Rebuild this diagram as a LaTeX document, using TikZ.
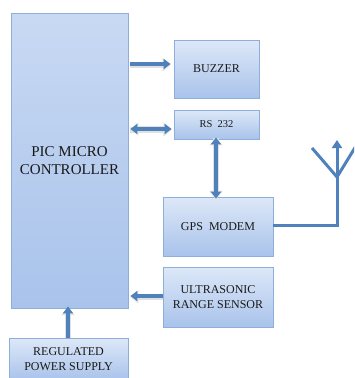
\documentclass[tikz,border=0pt]{standalone}
\usepackage{fontspec}
\setmainfont{Liberation Serif}
\usetikzlibrary{arrows.meta,shadows}
\definecolor{arrblue}{HTML}{4F81BD}
\definecolor{boxline}{HTML}{8EAEDC}
\definecolor{boxtop}{HTML}{DDE8F8}
\definecolor{boxbot}{HTML}{A9C3EB}
\begin{document}
\begin{tikzpicture}[x=1pt,y=-1pt,
  blk/.style={draw=boxline, line width=0.8pt, top color=boxtop, bottom color=boxbot,
    align=center, inner sep=0pt, text=black!90,
    drop shadow={shadow xshift=1pt, shadow yshift=-1pt, opacity=0.25}},
  arr/.style={draw=arrblue, line width=3.4pt, -{Triangle[length=7pt,width=10pt]},
    preaction={draw=black!12, line width=6pt, -{Triangle[length=8pt,width=13pt]}, transform canvas={yshift=-0.8pt}}},
  darr/.style={arr, {Triangle[length=7pt,width=10pt]}-{Triangle[length=7pt,width=10pt]},
    preaction={draw=black!12, line width=6pt, {Triangle[length=8pt,width=13pt]}-{Triangle[length=8pt,width=13pt]}}},
  ant/.style={draw=arrblue, line width=3pt}
]
\useasboundingbox (0,0) rectangle (354,378);
\begin{scope}
\clip (0,0) rectangle (354,378);
\node[blk, minimum width=117pt, minimum height=295pt, top color=boxtop!60!boxbot, font=\fontsize{15}{18}\selectfont] (pic) at (69.5,160.5) {PIC MICRO\\CONTROLLER};
\node[blk, minimum width=85pt, minimum height=58pt, font=\fontsize{12}{14}\selectfont] (buz) at (216.5,69) {BUZZER};
\node[blk, minimum width=85pt, minimum height=29pt, font=\fontsize{10.5}{12}\selectfont] (rs) at (216.5,124.5) {RS\ \ 232};
\node[blk, minimum width=110pt, minimum height=59pt, font=\fontsize{12}{14}\selectfont] (gps) at (218,226.5) {GPS\ \ MODEM};
\node[blk, minimum width=110pt, minimum height=60pt, font=\fontsize{12}{14.5}\selectfont] (us) at (218,297) {ULTRASONIC\\RANGE SENSOR};
\node[blk, minimum width=119pt, minimum height=42pt, font=\fontsize{12}{14.5}\selectfont] (pwr) at (68.5,359) {REGULATED\\POWER SUPPLY};

\coordinate (mast) at (337,140);
\coordinate (vjoin) at (337,177);
\coordinate (vl) at (312,148);
\coordinate (vr) at (356,146);

\draw[arr] ([xshift=1.5pt]pic.east |- 0,64) -- ([xshift=-3pt]buz.west |- 0,64);
\draw[darr] ([xshift=2pt]pic.east |- 0,129) -- ([xshift=-2pt]rs.west |- 0,129);
\draw[darr] ([yshift=2pt]rs.south -| 216,0) -- ([yshift=-2pt]gps.north -| 216,0);
\draw[arr] (us.west |- 0,296) -- ([xshift=2pt]pic.east |- 0,296);
\draw[arr] (pwr.north -| 68,0) -- ([yshift=2pt]pic.south -| 68,0);

\draw[ant] (gps.east |- 0,225) -| (vjoin);
\draw[ant, -{Triangle[length=8pt,width=10pt]}] (vjoin) -- (mast);
\draw[ant] (vl) -- (vjoin) -- (vr);
\end{scope}
\end{tikzpicture}
\end{document}
